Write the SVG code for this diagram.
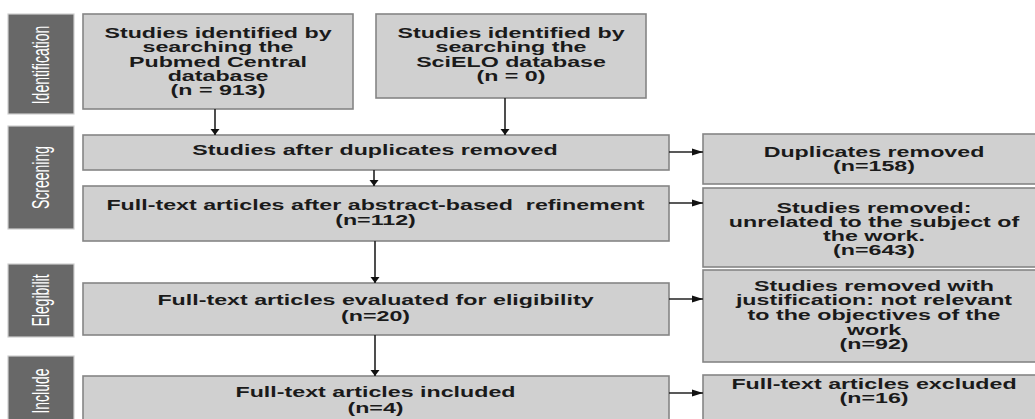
<svg xmlns="http://www.w3.org/2000/svg" width="1035" height="419" viewBox="0 0 1035 419">
<style>
.box{fill:#d0d0d0;stroke:#858585;stroke-width:1.6}
.lab{fill:#686868;stroke:#cfcfcf;stroke-width:1.2}
.t{font-family:"Liberation Sans",Arial,sans-serif;font-weight:bold;font-size:14px;fill:#1a1a1a;text-anchor:middle}
.lt{font-family:"Liberation Sans",Arial,sans-serif;font-size:14px;fill:#ffffff;text-anchor:middle}
.c{stroke:#222;stroke-width:1.6;fill:none}
</style>
<defs>
<marker id="av" markerUnits="userSpaceOnUse" markerWidth="8" markerHeight="10" refX="6" refY="5" orient="auto"><path d="M0,0.5 L6,5 L0,9.5 Z" fill="#111"/></marker>
<marker id="ah" markerUnits="userSpaceOnUse" markerWidth="12" markerHeight="8" refX="11" refY="4" orient="auto"><path d="M0,0.5 L11,4 L0,7.5 Z" fill="#111"/></marker>
</defs>
<rect width="1035" height="419" fill="#ffffff"/>

<g id="label-identification">
<rect class="lab" x="8" y="14" width="66" height="100"/>
<text class="lt" transform="translate(41,65) scale(1.66,1) rotate(-90)" x="0" y="5">Identification</text>
</g>
<g id="label-screening">
<rect class="lab" x="8" y="126" width="66" height="103"/>
<text class="lt" transform="translate(41,177.5) scale(1.66,1) rotate(-90)" x="0" y="5">Screening</text>
</g>
<g id="label-eligibility">
<rect class="lab" x="8" y="264" width="66" height="73"/>
<text class="lt" transform="translate(41,300.5) scale(1.66,1) rotate(-90)" x="0" y="5">Elegibilit</text>
</g>
<g id="label-include">
<rect class="lab" x="8" y="356" width="66" height="80"/>
<text class="lt" transform="translate(41,391) scale(1.66,1) rotate(-90)" x="0" y="5">Include</text>
</g>

<g id="pubmed">
<rect class="box" x="83" y="14" width="270" height="95"/>
<g transform="translate(218,0) scale(1.66,1)">
<text class="t" x="0" y="38">Studies identified by</text>
<text class="t" x="0" y="52.3">searching the</text>
<text class="t" x="0" y="66.6">Pubmed Central</text>
<text class="t" x="0" y="80.9">database</text>
<text class="t" x="0" y="95.2">(n = 913)</text>
</g>
</g>
<g id="scielo">
<rect class="box" x="376" y="14" width="270" height="84"/>
<g transform="translate(511,0) scale(1.66,1)">
<text class="t" x="0" y="38.3">Studies identified by</text>
<text class="t" x="0" y="52.5">searching the</text>
<text class="t" x="0" y="66.7">SciELO database</text>
<text class="t" x="0" y="81">(n = 0)</text>
</g>
</g>
<g id="after-duplicates">
<rect class="box" x="83" y="135" width="586" height="35"/>
<g transform="translate(375,0) scale(1.66,1)">
<text class="t" x="0" y="155.5">Studies after duplicates removed</text>
</g>
</g>
<g id="after-abstract">
<rect class="box" x="83" y="186" width="586" height="55"/>
<g transform="translate(375.5,0) scale(1.66,1)">
<text class="t" x="0" y="210.5">Full-text articles after abstract-based&#160; refinement</text>
<text class="t" x="0" y="225.5">(n=112)</text>
</g>
</g>
<g id="eligibility">
<rect class="box" x="83" y="283" width="586" height="52"/>
<g transform="translate(375.5,0) scale(1.66,1)">
<text class="t" x="0" y="305">Full-text articles evaluated for eligibility</text>
<text class="t" x="0" y="321">(n=20)</text>
</g>
</g>
<g id="included">
<rect class="box" x="83" y="376" width="586" height="60"/>
<g transform="translate(375.5,0) scale(1.66,1)">
<text class="t" x="0" y="397.5">Full-text articles included</text>
<text class="t" x="0" y="413">(n=4)</text>
</g>
</g>

<g id="duplicates-removed">
<rect class="box" x="703" y="134" width="345" height="50"/>
<g transform="translate(874,0) scale(1.66,1)">
<text class="t" x="0" y="157">Duplicates removed</text>
<text class="t" x="0" y="171.3">(n=158)</text>
</g>
</g>
<g id="unrelated-removed">
<rect class="box" x="703" y="188" width="345" height="79"/>
<g transform="translate(874,0) scale(1.66,1)">
<text class="t" x="0" y="213">Studies removed:</text>
<text class="t" x="0" y="227">unrelated to the subject of</text>
<text class="t" x="0" y="241">the work.</text>
<text class="t" x="0" y="255">(n=643)</text>
</g>
</g>
<g id="not-relevant-removed">
<rect class="box" x="703" y="270" width="345" height="92"/>
<g transform="translate(874,0) scale(1.66,1)">
<text class="t" x="0" y="291">Studies removed with</text>
<text class="t" x="0" y="305.5">justification: not relevant</text>
<text class="t" x="0" y="320">to the objectives of the</text>
<text class="t" x="0" y="334.8">work</text>
<text class="t" x="0" y="349.5">(n=92)</text>
</g>
</g>
<g id="excluded">
<rect class="box" x="703" y="375" width="345" height="60"/>
<g transform="translate(874,0) scale(1.66,1)">
<text class="t" x="0" y="389">Full-text articles excluded</text>
<text class="t" x="0" y="402.8">(n=16)</text>
</g>
</g>

<g id="connectors">
<line class="c" x1="215" y1="109" x2="215" y2="135" marker-end="url(#av)"/>
<line class="c" x1="505" y1="98" x2="505" y2="135" marker-end="url(#av)"/>
<line class="c" x1="374" y1="170" x2="374" y2="186" marker-end="url(#av)"/>
<line class="c" x1="375" y1="241" x2="375" y2="283" marker-end="url(#av)"/>
<line class="c" x1="375" y1="335" x2="375" y2="376" marker-end="url(#av)"/>
<line class="c" x1="669" y1="152" x2="703" y2="152" marker-end="url(#ah)"/>
<line class="c" x1="669" y1="203" x2="703" y2="203" marker-end="url(#ah)"/>
<line class="c" x1="669" y1="299" x2="703" y2="299" marker-end="url(#ah)"/>
<line class="c" x1="669" y1="393" x2="703" y2="393" marker-end="url(#ah)"/>
</g>
</svg>
